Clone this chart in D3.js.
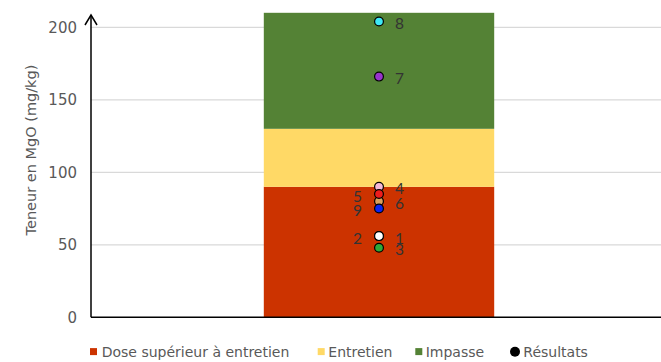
<!DOCTYPE html>
<html>
<head>
<meta charset="utf-8">
<script src="https://cdn.jsdelivr.net/npm/d3@7"></script>
<style>
  html, body { margin: 0; padding: 0; background: #fff; }
  svg { display: block; }
  text { font-family: "DejaVu Sans", "Noto Sans", sans-serif; }
  text.pt-label { font-family: Lato, "Noto Sans", sans-serif; }
</style>
</head>
<body>
<svg id="chart" width="661" height="362"></svg>
<script>
// Interpretation zones (stacked, mg/kg MgO)
const zoneNames = ["Dose supérieur à entretien", "Entretien", "Impasse"];
const zoneHeights = [90, 40, 80];
const zoneColors = ["#CC3300", "#FFD966", "#548235"];

// Sample results (drawn in this order)
const sampleIds = ["1", "2", "3", "6", "4", "5", "7", "8", "9"];
const sampleValues = [56, 56, 48, 80, 90, 85, 166, 204, 75];
const sampleColors = ["#FFFFFF", "#FFFFFF", "#2EAA3A", "#D9A05B", "#F4B8D8", "#EE1C1C", "#9933CC", "#3FE8F5", "#0A24F0"];
const labelSides = ["right", "left", "right", "right", "right", "left", "right", "right", "left"];

const yTicks = [0, 50, 100, 150, 200];
const yTitle = "Teneur en MgO (mg/kg)";
const category = ["Parcelle"];
const resultsLabel = "Résultats";

const svg = d3.select("#chart");

const plotLeft = 91, plotRight = 667, plotBottom = 317.3, plotTop200 = 27.3;

const x = d3.scaleBand().domain(category).range([plotLeft, plotRight])
  .paddingInner(0).paddingOuter(0.75);
const y = d3.scaleLinear().domain([0, 200]).range([plotBottom, plotTop200]);

// gridlines
svg.append("g").selectAll("line").data(yTicks.filter(d => d > 0)).join("line")
  .attr("x1", plotLeft).attr("x2", 661)
  .attr("y1", d => y(d)).attr("y2", d => y(d))
  .attr("stroke", "#D9D9D9").attr("stroke-width", 1.2);

// stacked zones
const stacks = zoneHeights.map((h, i) => {
  const base = d3.sum(zoneHeights.slice(0, i));
  return { name: zoneNames[i], y0: base, y1: base + h, color: zoneColors[i] };
});
svg.append("g").selectAll("rect").data(stacks).join("rect")
  .attr("x", x(category[0])).attr("width", x.bandwidth())
  .attr("y", d => y(d.y1)).attr("height", d => y(d.y0) - y(d.y1))
  .attr("fill", d => d.color);

// y tick labels
svg.append("g").selectAll("text").data(yTicks).join("text")
  .attr("x", 77).attr("y", d => y(d)).attr("dy", "0.36em")
  .attr("text-anchor", "end").attr("font-size", 15).attr("fill", "#595959")
  .text(d => d);

// axes
svg.append("line").attr("x1", plotLeft).attr("x2", 661)
  .attr("y1", plotBottom).attr("y2", plotBottom)
  .attr("stroke", "#000").attr("stroke-width", 1.5);
svg.append("line").attr("x1", plotLeft).attr("x2", plotLeft)
  .attr("y1", plotBottom).attr("y2", 15)
  .attr("stroke", "#000").attr("stroke-width", 1.5);
svg.append("path")
  .attr("d", `M${plotLeft - 6},${25} L${plotLeft},${15} L${plotLeft + 6},${25}`)
  .attr("fill", "none").attr("stroke", "#000").attr("stroke-width", 1.5);

// axis title
svg.append("text")
  .attr("transform", `translate(36,${150}) rotate(-90)`)
  .attr("text-anchor", "middle").attr("font-size", 14.5).attr("fill", "#595959")
  .text(yTitle);

// sample points
const samples = sampleIds.map((id, i) => ({
  id, value: sampleValues[i], color: sampleColors[i], side: labelSides[i]
}));
const cx = x(category[0]) + x.bandwidth() / 2;
svg.append("g").selectAll("circle").data(samples).join("circle")
  .attr("cx", cx).attr("cy", d => y(d.value)).attr("r", 4.4)
  .attr("fill", d => d.color).attr("stroke", "#000").attr("stroke-width", 1.2);

svg.append("g").selectAll("text").data(samples).join("text")
  .attr("class", "pt-label")
  .attr("x", d => d.side === "right" ? cx + 16 : cx - 17)
  .attr("y", d => y(d.value) + 2).attr("dy", "0.36em")
  .attr("text-anchor", d => d.side === "right" ? "start" : "end")
  .attr("font-size", 15.5).attr("fill", "#333")
  .text(d => d.id);

// legend
const legendY = 351.7;
const legendItems = [
  { label: zoneNames[0], color: zoneColors[0], x: 90, tx: 101.7, shape: "rect" },
  { label: zoneNames[1], color: zoneColors[1], x: 317.7, tx: 328.3, shape: "rect" },
  { label: zoneNames[2], color: zoneColors[2], x: 415.3, tx: 425.7, shape: "rect" },
  { label: resultsLabel, color: "#000", x: 510, tx: 523.3, shape: "circle" }
];
const lg = svg.append("g");
legendItems.forEach(it => {
  if (it.shape === "rect") {
    lg.append("rect").attr("x", it.x).attr("y", legendY - 3.6)
      .attr("width", 7).attr("height", 7).attr("fill", it.color);
  } else {
    lg.append("circle").attr("cx", it.x + 5).attr("cy", legendY).attr("r", 5)
      .attr("fill", it.color);
  }
  lg.append("text").attr("x", it.tx).attr("y", legendY).attr("dy", "0.36em")
    .attr("font-size", 14).attr("fill", "#595959").text(it.label);
});
</script>
</body>
</html>
